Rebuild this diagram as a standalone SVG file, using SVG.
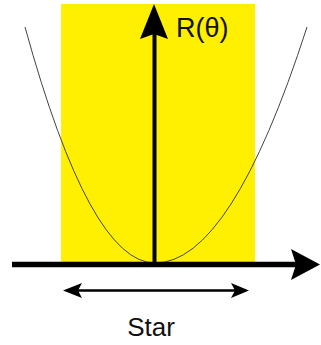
<svg xmlns="http://www.w3.org/2000/svg" width="321" height="345" viewBox="0 0 321 345">
<style>
.lbl{font-family:"Liberation Sans",Arial,sans-serif;fill:#111;}
.curve{fill:none;stroke:#444;stroke-width:1;}
.ax{stroke:#000;fill:none;}
.head{fill:#000;}
</style>
<rect width="321" height="345" fill="#fff"/>
<g id="band"><rect x="61" y="4" width="194" height="260" fill="#ffef00"/></g>
<g id="parabola"><path class="curve" d="M25,27 Q90,263 155,263 Q231,263 307,27"/></g>
<g id="connectors">
<line class="ax" x1="12" y1="264.5" x2="296" y2="264.5" stroke-width="5.5"/>
<polygon class="head" points="320,264.5 291,249 296,264.5 291,280"/>
<line class="ax" x1="154.5" y1="264" x2="154.5" y2="34" stroke-width="4"/>
<polygon class="head" points="154,4 168,39 154,34 140,39"/>
<line class="ax" x1="77" y1="290.5" x2="236" y2="290.5" stroke-width="2.5"/>
<polygon class="head" points="63,290.5 82,283 78,290.5 82,298"/>
<polygon class="head" points="249,290.5 231,283 235,290.5 231,298"/>
</g>
<g id="label-r"><text class="lbl" x="176" y="37" font-size="27">R(θ)</text></g>
<g id="label-star"><text class="lbl" x="151" y="336" font-size="26" text-anchor="middle">Star</text></g>
</svg>
